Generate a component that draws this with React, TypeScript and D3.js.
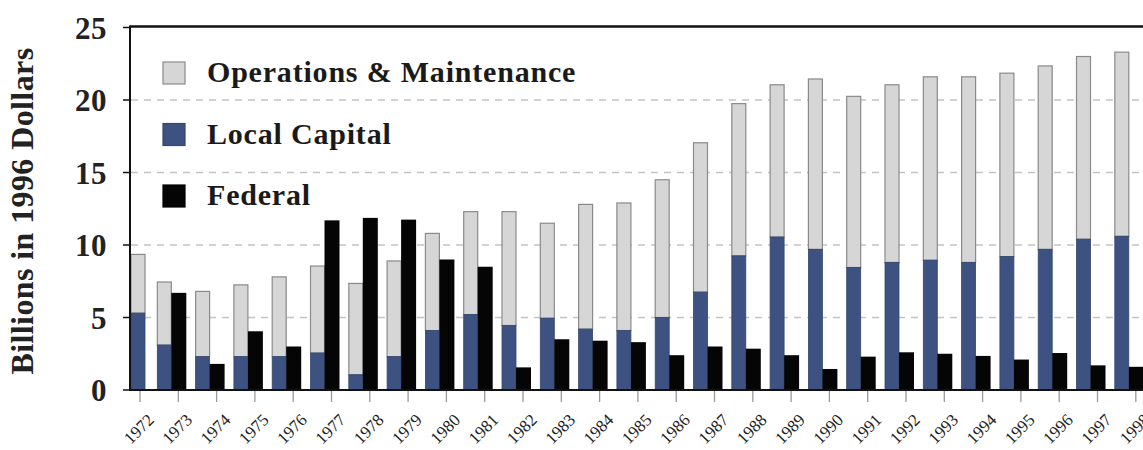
import React from 'react';
import * as d3 from 'd3';

// Transit spending, billions in 1996 dollars
const years = [
  1972, 1973, 1974, 1975, 1976, 1977, 1978, 1979, 1980, 1981, 1982, 1983, 1984,
  1985, 1986, 1987, 1988, 1989, 1990, 1991, 1992, 1993, 1994, 1995, 1996, 1997, 1998,
];
const localCapital = [
  5.3, 3.1, 2.3, 2.3, 2.3, 2.55, 1.05, 2.3, 4.1, 5.2, 4.45, 4.95, 4.2,
  4.1, 5.0, 6.75, 9.25, 10.55, 9.7, 8.45, 8.8, 8.95, 8.8, 9.2, 9.7, 10.4, 10.6,
];
// total height of the stacked bar (local capital + O&M)
const stackTotal = [
  9.35, 7.45, 6.8, 7.25, 7.8, 8.55, 7.35, 8.9, 10.8, 12.3, 12.3, 11.5, 12.8,
  12.9, 14.5, 17.05, 19.75, 21.05, 21.45, 20.25, 21.05, 21.6, 21.6, 21.85, 22.35, 23.0, 23.3,
];
const federal = [
  0, 6.7, 1.8, 4.05, 3.0, 11.7, 11.87, 11.75, 9.0, 8.5, 1.56, 3.5, 3.4,
  3.3, 2.4, 3.0, 2.85, 2.4, 1.45, 2.3, 2.6, 2.5, 2.35, 2.1, 2.55, 1.7, 1.6,
];
const yTicks = [0, 5, 10, 15, 20, 25];
const gridTicks = [5, 10, 15, 20];

const legendItems = [
  { label: 'Operations & Maintenance', fill: '#d6d6d6', stroke: '#8a8a8a' },
  { label: 'Local Capital', fill: '#3d5280', stroke: '#34466c' },
  { label: 'Federal', fill: '#050505', stroke: '#000' },
];

const W = 1143;
const H = 450;
const plotLeft = 131;
const serif = '"Liberation Serif", "Times New Roman", serif';

export default function App() {
  const y = d3.scaleLinear().domain([0, 25]).range([390, 27.5]);
  const x = d3.scalePoint<number>().domain(years).range([140, 140 + 26 * 38.3]);

  const rows = years.map((yr, i) => ({
    year: yr,
    cx: x(yr) as number,
    local: localCapital[i],
    total: stackTotal[i],
    fed: federal[i],
  }));

  return (
    <div style={{ position: 'absolute', left: 0, top: 0 }}>
      <svg width={W} height={H} style={{ display: 'block', background: '#fff' }}>
        {/* grid */}
        {gridTicks.map((t) => (
          <line
            key={t}
            x1={plotLeft}
            x2={W}
            y1={y(t)}
            y2={y(t)}
            stroke="#c4c4c4"
            strokeWidth={1.5}
            strokeDasharray="7,6"
          />
        ))}

        {/* bars */}
        {rows.map((r) => {
          const gx = Math.max(r.cx - 21, plotLeft);
          return (
            <g key={r.year}>
              <rect
                x={gx}
                y={y(r.total)}
                width={14}
                height={y(r.local) - y(r.total)}
                fill="#d6d6d6"
                stroke="#8a8a8a"
                strokeWidth={1.2}
              />
              <rect
                x={gx}
                y={y(r.local)}
                width={14}
                height={y(0) - y(r.local)}
                fill="#3d5280"
                stroke="#34466c"
                strokeWidth={0.8}
              />
              {r.fed > 0 && (
                <rect
                  x={r.cx - 7}
                  y={y(r.fed)}
                  width={15}
                  height={y(0) - y(r.fed)}
                  fill="#050505"
                />
              )}
            </g>
          );
        })}

        {/* frame / axes */}
        <line x1={plotLeft - 1} x2={W} y1={y(25) - 1} y2={y(25) - 1} stroke="#111" strokeWidth={2.5} />
        <line x1={plotLeft - 1} x2={W} y1={y(0)} y2={y(0)} stroke="#111" strokeWidth={2} />
        <line x1={plotLeft - 1} x2={plotLeft - 1} y1={y(25) - 2} y2={y(0) + 1} stroke="#111" strokeWidth={2} />

        {/* y ticks */}
        {yTicks.map((t) => (
          <g key={t}>
            <line x1={plotLeft - 8} x2={plotLeft - 1} y1={y(t)} y2={y(t)} stroke="#111" strokeWidth={1.5} />
            <text
              x={107}
              y={y(t)}
              dy="0.36em"
              textAnchor="end"
              fontFamily={serif}
              fontWeight="bold"
              fontSize={31}
              letterSpacing={0.5}
              fill="#222"
            >
              {t}
            </text>
          </g>
        ))}

        {/* y title */}
        <text
          transform={`translate(33,211) rotate(-90)`}
          textAnchor="middle"
          fontFamily={serif}
          fontWeight="bold"
          fontSize={32}
          letterSpacing={0.4}
          fill="#222"
        >
          Billions in 1996 Dollars
        </text>

        {/* x ticks + labels */}
        {rows.map((r) => (
          <g key={r.year}>
            <line x1={r.cx} x2={r.cx} y1={y(0) + 1} y2={y(0) + 12} stroke="#9a9a9a" strokeWidth={1.3} />
            <text
              transform={`translate(${r.cx - 1},429) rotate(-45)`}
              textAnchor="middle"
              dominantBaseline="central"
              fontFamily={serif}
              fontSize={17}
              fill="#222"
            >
              {r.year}
            </text>
          </g>
        ))}

        {/* legend */}
        {legendItems.map((it, i) => (
          <g key={it.label} transform={`translate(163,${62 + i * 61.5})`}>
            <rect x={0} y={0} width={22} height={22} fill={it.fill} stroke={it.stroke} strokeWidth={1.2} />
            <text
              x={44}
              y={20}
              fontFamily={serif}
              fontWeight="bold"
              fontSize={30}
              letterSpacing={0.8}
              fill="#1a1a1a"
            >
              {it.label}
            </text>
          </g>
        ))}
      </svg>
    </div>
  );
}
